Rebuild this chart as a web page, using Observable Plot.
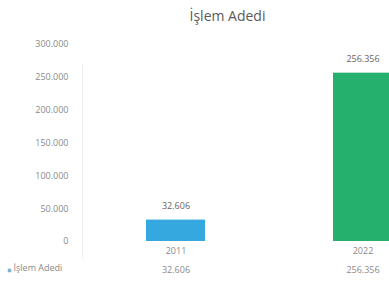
<!DOCTYPE html>
<html>
<head>
<meta charset="utf-8">
<script src="https://cdn.jsdelivr.net/npm/d3@7"></script>
<script src="https://cdn.jsdelivr.net/npm/@observablehq/plot@0.6"></script>
<style>
  html, body { margin: 0; padding: 0; background: #fff; overflow: hidden; }
  #chart { width: 389px; height: 286px; overflow: hidden; }
</style>
</head>
<body>
<div id="chart"></div>
<script>
const title = "İşlem Adedi";
const seriesName = "İşlem Adedi";
const years = ["2011", "2022"];
const values = [32606, 256356];
const barColors = ["#35a9df", "#25b06e"];
const yTicks = [0, 50000, 100000, 150000, 200000, 250000, 300000];

const data = years.map((y, i) => ({year: y, value: values[i], color: barColors[i]}));
const fmt = v => d3.format(",")(v).replace(/,/g, ".");
const font = "Open Sans, Liberation Sans, sans-serif";

const chart = Plot.plot({
  width: 389,
  height: 286,
  marginLeft: 82,
  marginRight: 0,
  marginTop: 44,
  marginBottom: 45,
  style: {fontFamily: font, fontSize: "9px", color: "#8a8a8a", background: "#fff"},
  x: {type: "band", domain: years, range: [82, 456], paddingInner: 0.6845, paddingOuter: 0.342, axis: null},
  y: {domain: [0, 300000], range: [241, 44]},
  color: {type: "identity"},
  marks: [
    (index, scales, values, dims) => {
      const line = d3.create("svg:line")
        .attr("x1", dims.marginLeft + 0.5).attr("x2", dims.marginLeft + 0.5)
        .attr("y1", scales.y(300000) + 20).attr("y2", scales.y(0) + 18)
        .attr("stroke", "#f0f0f0");
      return line.node();
    },
    Plot.axisY({ticks: yTicks, tickSize: 0, tickPadding: 14, tickFormat: fmt, label: null, fill: "#8a8a8a", fontSize: 9}),
    Plot.barY(data, {x: "year", y: "value", fill: "color"}),
    Plot.text(data, {x: "year", y: "value", text: d => fmt(d.value), dy: -14, fill: "#666", fontSize: 9}),
    Plot.text(data, {x: "year", y: 0, text: "year", dy: 10, fill: "#8a8a8a", fontSize: 9}),
    Plot.text(data, {x: "year", y: 0, text: d => fmt(d.value), dy: 29, fill: "#8a8a8a", fontSize: 9}),
    Plot.text([seriesName], {frameAnchor: "bottom-left", text: d => d, dx: -69, dy: 29, fill: "#8a8a8a", fontSize: 9, textAnchor: "start"}),
    Plot.dot([0], {frameAnchor: "bottom-left", dx: -73, dy: 29, symbol: "square", r: 2, fill: "#7fb3d0"}),
    Plot.text([title], {frameAnchor: "top-left", text: d => d, dx: 145, dy: -33, fill: "#5a5a5a", fontSize: 14, textAnchor: "middle"})
  ]
});
document.getElementById("chart").appendChild(chart);
</script>
</body>
</html>
